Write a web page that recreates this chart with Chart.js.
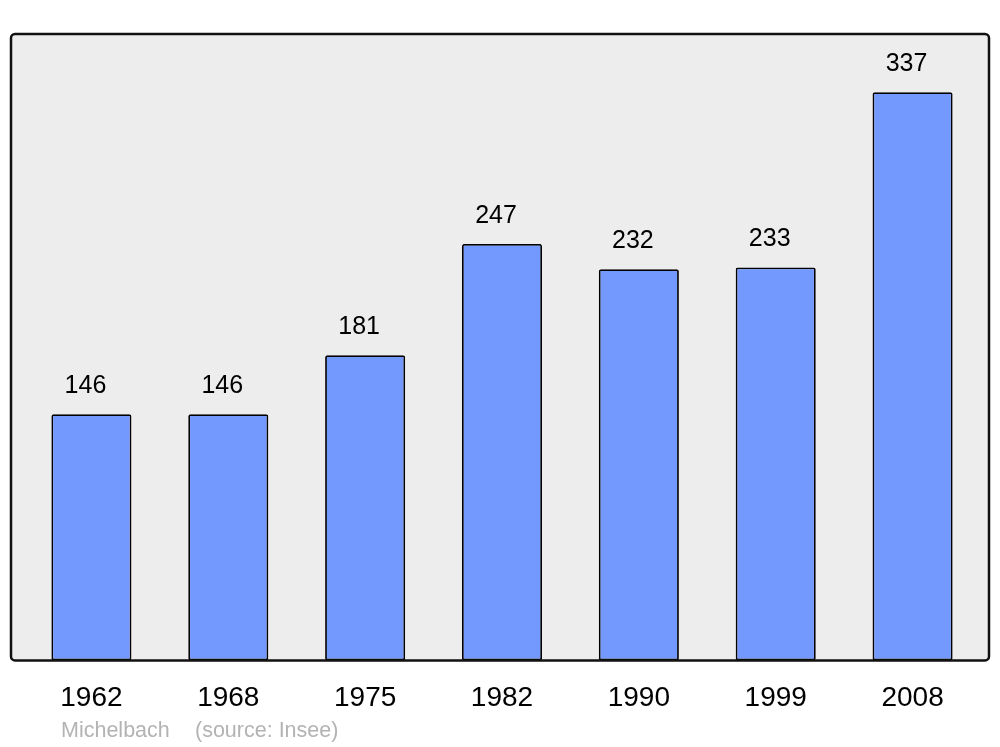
<!DOCTYPE html>
<html>
<head>
<meta charset="utf-8">
<script src="https://cdn.jsdelivr.net/npm/chart.js@4"></script>
<style>
  html, body { margin: 0; padding: 0; background: #fff; }
  #wrap { width: 1000px; height: 747px; }
</style>
</head>
<body>
<div id="wrap"><canvas id="popChart" width="1000" height="747"></canvas></div>
<script>
const years = ['1962', '1968', '1975', '1982', '1990', '1999', '2008'];
const population = [146, 146, 181, 247, 232, 233, 337];
const footerText = ['Michelbach', '(source: Insee)'];

// background box + border around the plot
const framePlugin = {
    id: 'frame',
    beforeDatasetsDraw(chart) {
        const a = chart.chartArea;
        const ctx = chart.ctx;
        ctx.save();
        ctx.beginPath();
        ctx.roundRect(a.left - 12, a.top, a.right - a.left + 20, a.bottom - a.top, 4);
        ctx.fillStyle = '#ededed';
        ctx.fill();
        ctx.restore();
    },
    afterDatasetsDraw(chart) {
        const a = chart.chartArea;
        const ctx = chart.ctx;
        ctx.save();
        ctx.beginPath();
        ctx.roundRect(a.left - 12, a.top, a.right - a.left + 20, a.bottom - a.top, 4);
        ctx.lineWidth = 2.5;
        ctx.strokeStyle = '#111';
        ctx.stroke();

        // value labels
        ctx.font = '25px "Liberation Sans", Arial, sans-serif';
        ctx.fillStyle = '#000';
        ctx.textAlign = 'center';
        ctx.textBaseline = 'middle';
        const meta = chart.getDatasetMeta(0);
        meta.data.forEach((bar, i) => {
            ctx.fillText(population[i], bar.x - 6, bar.y - 28);
        });

        // footer
        ctx.font = '21.5px "Liberation Sans", Arial, sans-serif';
        ctx.fillStyle = '#b3b3b3';
        ctx.textAlign = 'left';
        ctx.fillText(footerText[0], a.left + 38, 731);
        ctx.fillText(footerText[1], a.left + 172, 731);
        ctx.restore();
    }
};

const ctx = document.getElementById('popChart');
new Chart(ctx, {
    type: 'bar',
    data: {
        labels: years,
        datasets: [
            {
                data: population,
                backgroundColor: '#7399ff',
                borderColor: '#000',
                borderWidth: 1.8,
                borderRadius: 2,
                borderSkipped: false,
                barPercentage: 0.585,
                categoryPercentage: 1
            }
        ]
    },
    options: {
        responsive: false,
        animation: false,
        layout: {
            padding: { left: 23, right: 19, top: 34, bottom: 11 }
        },
        plugins: {
            legend: { display: false },
            tooltip: { enabled: false }
        },
        scales: {
            x: {
                grid: { display: false, drawTicks: false },
                border: { display: false },
                ticks: {
                    color: '#000',
                    padding: 21,
                    font: { size: 28, family: '"Liberation Sans", Arial, sans-serif' }
                }
            },
            y: {
                display: false,
                min: 0,
                max: 371.5
            }
        }
    },
    plugins: [framePlugin]
});
</script>
</body>
</html>
